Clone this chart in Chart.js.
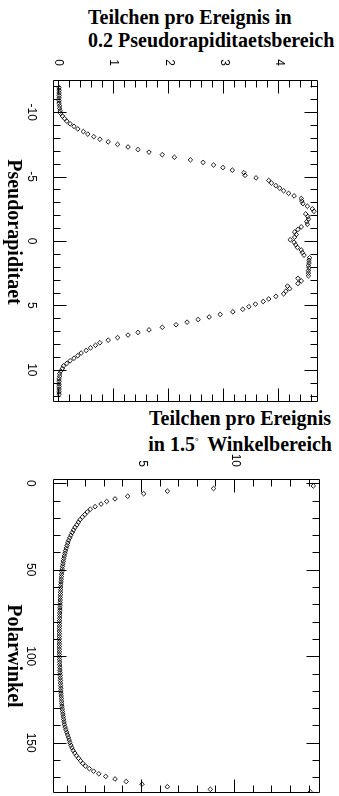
<!DOCTYPE html>
<html>
<head>
<meta charset="utf-8">
<script src="https://cdn.jsdelivr.net/npm/chart.js@4/dist/chart.umd.min.js"></script>
<style>
  html, body { margin:0; padding:0; background:#fff; }
  body { width:339px; height:796px; position:relative; overflow:hidden; }
  .t { position:absolute; font: bold 20px "Liberation Serif", "Times New Roman", serif; line-height:20px; white-space:nowrap; color:#000; }
  .deg { font-size:9px; vertical-align:7px; margin-right:4px; }
  .wrap { position:absolute; transform-origin:0 0; }
  .wrap canvas { position:absolute; left:0; top:0; }
  .axt { position:absolute; transform:translate(-50%,-50%); font: bold 20px "Liberation Serif", "Times New Roman", serif; white-space:nowrap; color:#000; }
</style>
</head>
<body>
<div class="t" style="left:88px;top:7px">Teilchen pro Ereignis in</div>
<div class="t" style="left:88px;top:30px">0.2 Pseudorapiditaetsbereich</div>
<div class="t" style="right:8px;top:408px">Teilchen pro Ereignis</div>
<div class="t" style="right:7px;top:431px">in 1.5<span class="deg">°</span> Winkelbereich</div>

<div class="wrap" style="left:0;top:50px;width:360px;height:339px;transform:translate(339px,0) rotate(90deg)">
  <canvas id="c1" width="360" height="339"></canvas>
  <div class="axt" style="left:182px;top:324px">Pseudorapiditaet</div>
</div>
<div class="wrap" style="left:0;top:450px;width:346px;height:339px;transform:translate(339px,0) rotate(90deg)">
  <canvas id="c2" width="346" height="339"></canvas>
  <div class="axt" style="left:206px;top:324px">Polarwinkel</div>
</div>

<script>
// ---------- Panel 1: particles per event in 0.2 pseudorapidity bins ----------
const etaCenters = [
 -11.9,-11.7,-11.5,-11.3,-11.1,-10.9,-10.7,-10.5,-10.3,-10.1,
 -9.9,-9.7,-9.5,-9.3,-9.1,-8.9,-8.7,-8.5,-8.3,-8.1,
 -7.9,-7.7,-7.5,-7.3,-7.1,-6.9,-6.7,-6.5,-6.3,-6.1,
 -5.9,-5.7,-5.5,-5.3,-5.1,-4.9,-4.7,-4.5,-4.3,-4.1,
 -3.9,-3.7,-3.5,-3.3,-3.1,-2.9,-2.7,-2.5,-2.3,-2.1,
 -1.9,-1.7,-1.5,-1.3,-1.1,-0.9,-0.7,-0.5,-0.3,-0.1,
 0.1,0.3,0.5,0.7,0.9,1.1,1.3,1.5,1.7,1.9,
 2.1,2.3,2.5,2.7,2.9,3.1,3.3,3.5,3.7,3.9,
 4.1,4.3,4.5,4.7,4.9,5.1,5.3,5.5,5.7,5.9,
 6.1,6.3,6.5,6.7,6.9,7.1,7.3,7.5,7.7,7.9,
 8.1,8.3,8.5,8.7,8.9,9.1,9.3,9.5,9.7,9.9,
 10.1,10.3,10.5,10.7,10.9,11.1,11.3,11.5,11.7,11.9
];
const etaCounts = [
 0.01,0.01,0.01,0.01,0.01,0.01,0.01,0.02,0.02,0.03,
 0.04,0.07,0.11,0.15,0.21,0.28,0.35,0.45,0.53,0.64,
 0.75,0.90,1.07,1.26,1.44,1.64,1.88,2.10,2.39,2.62,
 2.81,2.98,3.15,3.36,3.38,3.58,3.81,3.86,3.94,4.01,
 4.08,4.17,4.27,4.40,4.41,4.43,4.51,4.60,4.63,4.48,
 4.52,4.53,4.50,4.51,4.40,4.34,4.28,4.31,4.28,4.20,
 4.27,4.30,4.33,4.40,4.42,4.45,4.55,4.54,4.54,4.53,
 4.54,4.53,4.53,4.53,4.34,4.40,4.34,4.15,4.19,4.12,
 4.08,3.94,3.81,3.71,3.57,3.45,3.34,3.16,2.93,2.73,
 2.53,2.33,2.13,1.88,1.64,1.44,1.26,1.07,0.90,0.75,
 0.67,0.58,0.50,0.41,0.35,0.28,0.21,0.15,0.09,0.07,
 0.04,0.02,0.02,0.01,0.01,0.01,0.01,0.01,0.01,0.01
];
const etaMajorTicks = [-10,-5,0,5,10];
const etaMinorTicks = [-12,-11,-10,-9,-8,-7,-6,-5,-4,-3,-2,-1,0,1,2,3,4,5,6,7,8,9,10,11,12];
const count1MajorTicks = [0,1,2,3,4];
const count1MinorTicks = [0.2,0.4,0.6,0.8,1.2,1.4,1.6,1.8,2.2,2.4,2.6,2.8,3.2,3.4,3.6,3.8,4.2,4.4,4.6];

// ---------- Panel 2: particles per event in 1.5 degree polar-angle bins ----------
const angleCenters = [
 1.5,3,4.5,6,7.5,9,10.5,12,13.5,15,16.5,18,19.5,21,22.5,24,25.5,27,28.5,30,
 31.5,33,34.5,36,37.5,39,40.5,42,43.5,45,46.5,48,49.5,51,52.5,54,55.5,57,58.5,60,
 61.5,63,64.5,66,67.5,69,70.5,72,73.5,75,76.5,78,79.5,81,82.5,84,85.5,87,88.5,90,
 91.5,93,94.5,96,97.5,99,100.5,102,103.5,105,106.5,108,109.5,111,112.5,114,115.5,117,118.5,120,
 121.5,123,124.5,126,127.5,129,130.5,132,133.5,135,136.5,138,139.5,141,142.5,144,145.5,147,148.5,150,
 151.5,153,154.5,156,157.5,159,160.5,162,163.5,165,166.5,168,169.5,171,172.5,174,175.5,177,178.5
];
const angleCounts = [
 14.2,8.84,6.36,5.09,4.23,3.55,3.10,2.80,2.48,2.22,2.06,1.93,1.80,1.67,1.58,1.50,1.40,1.32,1.25,1.18,
 1.12,1.06,1.01,0.97,0.93,0.89,0.86,0.83,0.80,0.77,0.75,0.73,0.71,0.70,0.68,0.67,0.66,0.65,0.64,0.63,
 0.63,0.62,0.62,0.61,0.61,0.60,0.60,0.59,0.59,0.58,0.58,0.58,0.57,0.57,0.57,0.56,0.56,0.56,0.56,0.56,
 0.56,0.56,0.56,0.56,0.56,0.56,0.57,0.57,0.58,0.58,0.59,0.59,0.60,0.61,0.61,0.62,0.62,0.63,0.64,0.64,
 0.65,0.66,0.67,0.68,0.69,0.70,0.72,0.73,0.75,0.77,0.79,0.81,0.83,0.87,0.91,0.96,1.00,1.05,1.09,1.13,
 1.18,1.24,1.30,1.39,1.48,1.59,1.70,1.82,1.96,2.17,2.40,2.68,3.05,3.55,4.15,5.00,6.36,8.67,14.04
];
const angleMajorTicks = [0,50,100,150];
const angleMinorTicks = [10,20,30,40,60,70,80,90,110,120,130,140,160,170];
const count2MajorTicks = [5,10];
const count2MinorTicks = [1,2,3,4,6,7,8,9,11,12,13,14];

// ---------- drawing helpers ----------
const inwardTicks = {
  id: 'inwardTicks',
  afterDatasetsDraw(chart, args, o) {
    const {ctx, chartArea: a} = chart;
    const sx = chart.scales.x, sy = chart.scales.y;
    const L = Math.round(a.left) + 0.5, R = Math.round(a.right) - 0.5;
    const T = Math.round(a.top) + 0.5, B = Math.round(a.bottom) - 0.5;
    ctx.save();
    ctx.strokeStyle = '#000';
    ctx.lineWidth = 1;
    ctx.beginPath();
    ctx.rect(L, T, R - L, B - T);
    const drawX = (vals, len) => vals.forEach(v => {
      const p = Math.round(sx.getPixelForValue(v)) + 0.5;
      if (p < L || p > R) return;
      ctx.moveTo(p, B); ctx.lineTo(p, B - len);
      ctx.moveTo(p, T); ctx.lineTo(p, T + len);
    });
    const drawY = (vals, len) => vals.forEach(v => {
      const p = Math.round(sy.getPixelForValue(v)) + 0.5;
      if (p < T || p > B) return;
      ctx.moveTo(L, p); ctx.lineTo(L + len, p);
      ctx.moveTo(R, p); ctx.lineTo(R - len, p);
    });
    drawX(o.xMinor, 7); drawX(o.xMajor, 13);
    drawY(o.yMinor, 7); drawY(o.yMajor, 13);
    ctx.stroke();
    ctx.restore();
  }
};

const tickFont = { family: '"Liberation Sans", Arial, sans-serif', size: 12 };

function makeChart(id, xs, ys, cfg) {
  return new Chart(document.getElementById(id), {
    type: 'scatter',
    data: {
      datasets: [{
        data: xs.map((x, i) => ({ x: x, y: ys[i] })),
        pointStyle: 'rectRot',
        pointRadius: 2.3,
        pointHoverRadius: 2.3,
        borderWidth: 0.9,
        borderColor: '#000',
        backgroundColor: 'rgba(0,0,0,0)',
        showLine: false
      }]
    },
    options: {
      responsive: false,
      animation: false,
      events: [],
      layout: { padding: { top: 6, right: cfg.padRight, left: 0, bottom: 0 } },
      scales: {
        x: {
          type: 'linear', position: 'bottom',
          min: cfg.xMin, max: cfg.xMax,
          afterBuildTicks: s => { s.ticks = cfg.xMajor.map(v => ({ value: v })); },
          afterFit: s => { s.height = cfg.xHeight; },
          ticks: { font: tickFont, color: '#000', padding: cfg.xPad, maxRotation: 0, minRotation: 0, autoSkip: false },
          grid: { display: false, drawTicks: false },
          border: { display: false }
        },
        y: {
          type: 'linear', position: 'left',
          min: cfg.yMin, max: cfg.yMax,
          afterBuildTicks: s => { s.ticks = cfg.yMajor.map(v => ({ value: v })); },
          afterFit: s => { s.width = cfg.yWidth; },
          ticks: { font: tickFont, color: '#000', padding: cfg.yPad, autoSkip: false },
          grid: { display: false, drawTicks: false },
          border: { display: false }
        }
      },
      plugins: {
        legend: { display: false },
        tooltip: { enabled: false },
        inwardTicks: { xMajor: cfg.xMajor, xMinor: cfg.xMinor, yMajor: cfg.yMajor, yMinor: cfg.yMinor }
      }
    },
    plugins: [inwardTicks]
  });
}

makeChart('c1', etaCenters, etaCounts, {
  xMin: -12.5, xMax: 12.5, xMajor: etaMajorTicks, xMinor: etaMinorTicks,
  yMin: -0.1, yMax: 4.7, yMajor: count1MajorTicks, yMinor: count1MinorTicks,
  xHeight: 53, yWidth: 30, padRight: 8, xPad: 14, yPad: 14
});

makeChart('c2', angleCenters, angleCounts, {
  xMin: -2.5, xMax: 179, xMajor: angleMajorTicks, xMinor: angleMinorTicks,
  yMin: 0.22, yMax: 14.55, yMajor: count2MajorTicks, yMinor: count2MinorTicks,
  xHeight: 53, yWidth: 29, padRight: 1, xPad: 15, yPad: 12
});
</script>
</body>
</html>
